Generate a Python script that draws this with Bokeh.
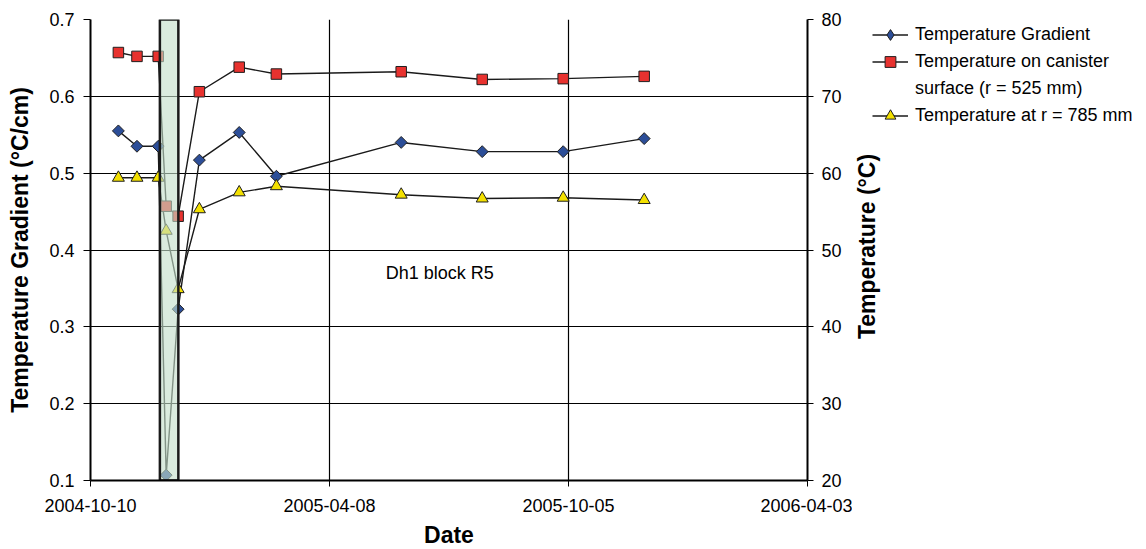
import math
import pandas as pd
from bokeh.plotting import figure
from bokeh.layouts import row
from bokeh.models import (Range1d, LinearAxis, FixedTicker, DatetimeTickFormatter,
                          Legend, LegendItem, Label, ColumnDataSource)
from bokeh.embed import file_html
from bokeh.resources import INLINE

# ---------------- data ----------------
dates = ["2004-10-31", "2004-11-14", "2004-11-30", "2004-12-06", "2004-12-15",
         "2004-12-31", "2005-01-30", "2005-02-27", "2005-06-01", "2005-08-01",
         "2005-10-01", "2005-12-01"]
gradient = [0.555, 0.535, 0.535, 0.107, 0.323, 0.517, 0.553, 0.496, 0.540, 0.528, 0.528, 0.545]
canister = [75.7, 75.2, 75.2, 55.7, 54.4, 70.6, 73.8, 72.9, 73.2, 72.2, 72.3, 72.6]
r785 = [59.4, 59.4, 59.4, 52.5, 44.9, 55.3, 57.5, 58.3, 57.2, 56.7, 56.8, 56.5]

x_ticks = ["2004-10-10", "2005-04-08", "2005-10-05", "2006-04-03"]
left_ticks = [0.1, 0.2, 0.3, 0.4, 0.5, 0.6, 0.7]
right_ticks = [20, 30, 40, 50, 60, 70, 80]

series_labels = ["Temperature Gradient", "Temperature on canister",
                 "surface (r = 525 mm)", "Temperature at r = 785 mm"]
left_title = "Temperature Gradient (°C/cm)"
right_title = "Temperature (°C)"
x_title = "Date"

box_start = "2004-12-01 06:00"
box_end = "2004-12-15 04:00"

annot_text = "Dh1 block R5"
annot_x = "2005-06-30"
annot_y = 0.37


def ms(s):
    return pd.Timestamp(s).value / 1e6


FONT = "Liberation Sans"
LINE = "#1a1a1a"
EDGE = "#1f1f1f"
BLUE, RED, YELLOW = "#2c4e98", "#e8322f", "#f3e000"

src = ColumnDataSource(dict(x=pd.to_datetime(dates), g=gradient, c=canister, r=r785))

# ================= main chart =================
p = figure(x_axis_type="datetime", output_backend="svg", toolbar_location=None,
           frame_width=717, frame_height=461,
           min_border_left=90, min_border_right=45, min_border_top=19, min_border_bottom=69,
           x_range=Range1d(start=ms(x_ticks[0]), end=ms(x_ticks[-1])),
           y_range=Range1d(start=left_ticks[0], end=left_ticks[-1]))
p.extra_y_ranges = {"right": Range1d(start=right_ticks[0], end=right_ticks[-1])}
p.outline_line_color = None
p.background_fill_color = "white"
p.border_fill_color = "white"

p.xgrid.ticker = FixedTicker(ticks=[ms(t) for t in x_ticks])
p.ygrid.ticker = FixedTicker(ticks=left_ticks)
for g in (p.xgrid[0], p.ygrid[0]):
    g.grid_line_color = "black"
    g.grid_line_width = 1.2

xa = p.xaxis[0]
xa.ticker = FixedTicker(ticks=[ms(t) for t in x_ticks])
fmt = "%Y-%m-%d"
xa.formatter = DatetimeTickFormatter(days=fmt, months=fmt, years=fmt, hours=fmt,
                                     minutes=fmt, seconds=fmt)
xa.axis_label = x_title
xa.major_tick_out = 6
xa.major_tick_in = 0
xa.major_label_standoff = 12
xa.axis_label_standoff = 7

ya = p.yaxis[0]
ya.ticker = FixedTicker(ticks=left_ticks)
ya.axis_label = left_title
ya.major_tick_out = 7
ya.major_tick_in = 0
ya.major_label_standoff = 9
ya.axis_label_standoff = 13

ra = LinearAxis(y_range_name="right", ticker=FixedTicker(ticks=right_ticks))
ra.major_tick_out = 6
ra.major_tick_in = 0
ra.major_label_standoff = 8
p.add_layout(ra, "right")

for ax in (xa, ya, ra):
    ax.axis_line_color = "black"
    ax.axis_line_width = 2
    ax.major_tick_line_color = "black"
    ax.major_tick_line_width = 1
    ax.minor_tick_line_color = None
    ax.major_label_text_font = FONT
    ax.major_label_text_font_size = "18px"
    ax.major_label_text_color = "black"
    ax.axis_label_text_font = FONT
    ax.axis_label_text_font_size = "23px"
    ax.axis_label_text_font_style = "bold"
    ax.axis_label_text_color = "black"

# lines
p.line("x", "g", source=src, line_color=LINE, line_width=1.4)
p.line("x", "c", source=src, line_color=LINE, line_width=1.4, y_range_name="right")
p.line("x", "r", source=src, line_color=LINE, line_width=1.4, y_range_name="right")

# markers
p.scatter("x", "g", source=src, marker="square", angle=math.pi / 4, size=8.4,
          fill_color=BLUE, line_color=EDGE, line_width=1)
p.scatter("x", "c", source=src, marker="square", size=10.5,
          fill_color=RED, line_color=EDGE, line_width=1, y_range_name="right")
p.scatter("x", "r", source=src, marker="triangle", size=12,
          fill_color=YELLOW, line_color=EDGE, line_width=1, y_range_name="right")

# highlighted period box
p.quad(left=[ms(box_start)], right=[ms(box_end)], top=[left_ticks[-1]], bottom=[left_ticks[0]],
       fill_color="#c4dfca", fill_alpha=0.62, line_color="#1a1a1a", line_width=2.5)

p.add_layout(Label(x=ms(annot_x), y=annot_y, text=annot_text, text_align="center",
                   text_baseline="middle", text_font=FONT, text_font_size="18px",
                   text_color="black"))

# ================= side panel: right axis title + legend =================
SIDE_W = 294
q = figure(output_backend="svg", toolbar_location=None, width=SIDE_W, height=549,
           min_border=0, x_axis_location=None, y_axis_location=None,
           x_range=Range1d(0, 1), y_range=Range1d(0, 1))
q.grid.visible = False
q.outline_line_color = None
q.background_fill_color = "white"
q.border_fill_color = "white"

# right-axis title (reads bottom-to-top, next to the right tick labels)
q.add_layout(Label(x=14, y=233, x_units="screen", y_units="screen", text=right_title,
                   angle=math.pi / 2, text_align="center", text_baseline="middle",
                   text_font=FONT, text_font_size="23px", text_font_style="bold",
                   text_color="black"))

# legend renderers (same data, outside this panel's view, so only the legend shows them)
k1 = q.line("x", "g", source=src, line_color=LINE, line_width=1.4)
m1 = q.scatter("x", "g", source=src, marker="diamond", fill_color=BLUE,
               line_color=EDGE, line_width=1)
k2 = q.line("x", "c", source=src, line_color=LINE, line_width=1.4)
m2 = q.scatter("x", "c", source=src, marker="square", fill_color=RED,
               line_color=EDGE, line_width=1)
k3 = q.line("x", "r", source=src, line_color=LINE, line_width=1.4)
m3 = q.scatter("x", "r", source=src, marker="triangle", fill_color=YELLOW,
               line_color=EDGE, line_width=1)
blank = q.line("x", "r", source=src, line_alpha=0)

items = [LegendItem(label=series_labels[0], renderers=[k1, m1]),
         LegendItem(label=series_labels[1], renderers=[k2, m2]),
         LegendItem(label=series_labels[2], renderers=[blank]),
         LegendItem(label=series_labels[3], renderers=[k3, m3])]
legend = Legend(items=items, location=(20, 350), glyph_width=36, glyph_height=27,
                label_height=27, spacing=0, padding=0, margin=0, label_standoff=7,
                border_line_color=None, background_fill_alpha=0,
                label_text_font=FONT, label_text_font_size="18px", label_text_color="black")
q.add_layout(legend)

layout = row(p, q)
open("out.html", "w").write(file_html(layout, INLINE))
